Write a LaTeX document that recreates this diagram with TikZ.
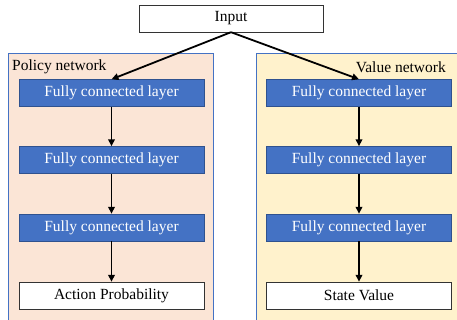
\documentclass[tikz,border=0pt]{standalone}
\usepackage{fontspec}
\setmainfont{Liberation Serif}
\usepackage{tikz}
\usetikzlibrary{arrows.meta}
\definecolor{fcblue}{HTML}{4472C4}
\definecolor{fcedge}{HTML}{2F528F}
\definecolor{peach}{HTML}{FBE5D6}
\definecolor{cream}{HTML}{FFF2CC}
\tikzset{
  fc/.style={draw=fcedge, fill=fcblue, text=white, minimum width=185pt, minimum height=27pt, inner sep=0pt},
  outbox/.style={draw=black!80, fill=white, minimum width=185pt, minimum height=27pt, inner sep=0pt},
  link/.style={line width=1.8pt, -{Triangle[length=7pt,width=6.5pt]}}
}
\newcommand{\fclayer}[3]{ \node[fc] (#1) at ( #2 , #3 ) {Fully connected layer};}
\newcommand{\panel}[5]{ \draw[draw=fcblue, fill=#1, line width=0.6pt] ( #2 , #3 ) rectangle ( #4 , #5 );}
\begin{document}
\begin{tikzpicture}[x=1pt, y=1pt, font=\fontsize{15.5}{17}\selectfont]
                \useasboundingbox (0,0) rectangle (457,-320);
                % panels
                \panel{peach}{8}{-53}{213}{-330}
                \panel{cream}{256}{-53}{470}{-330}
                \node[anchor=west, inner sep=0pt] (ptitle) at (12,-67) {Policy network};
                \node[anchor=east, inner sep=0pt] (vtitle) at (446,-67) {Value network};
                % input
                \node[draw=black!80, fill=white, minimum width=184pt, minimum height=27pt, inner sep=0pt] (input) at (231,-18.5) {Input};
                % policy column
                \fclayer{p1}{111.5}{-93}
                \fclayer{p2}{111.5}{-160}
                \fclayer{p3}{111.5}{-227.5}
                \node[outbox] (act) at (111.5,-295.5) {Action Probability};
                % value column
                \fclayer{v1}{359}{-93}
                \fclayer{v2}{359}{-160}
                \fclayer{v3}{359}{-227.5}
                \node[outbox] (val) at (359,-295.5) {State Value};
                % arrows
                \draw[link] (input.south) -- (p1.north);
                \draw[link] (input.south) -- (v1.north);
                \draw[link] (p1) -- (p2);
                \draw[link] (p2) -- (p3);
                \draw[link] (p3) -- (act);
                \draw[link] (v1) -- (v2);
                \draw[link] (v2) -- (v3);
                \draw[link] (v3) -- (val);
\end{tikzpicture}
\end{document}
